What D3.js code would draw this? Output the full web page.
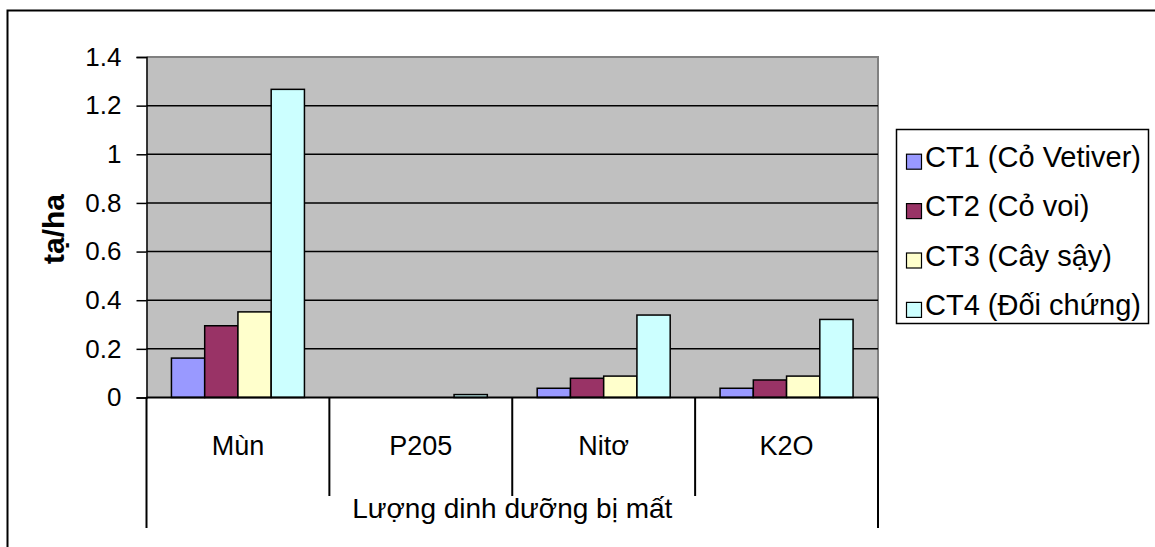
<!DOCTYPE html>
<html>
<head>
<meta charset="utf-8">
<script src="https://cdn.jsdelivr.net/npm/d3@7/dist/d3.min.js"></script>
<style>
  html, body { margin: 0; padding: 0; background: #fff; }
  svg { display: block; font-family: Arial, "Liberation Sans", sans-serif; }
</style>
</head>
<body>
<svg id="chart" width="1155" height="547"></svg>
<script>
// Nutrient losses (tạ/ha) per treatment
const categories = ["Mùn", "P205", "Nitơ", "K2O"];
const seriesNames = ["CT1 (Cỏ Vetiver)", "CT2 (Cỏ voi)", "CT3 (Cây sậy)", "CT4 (Đối chứng)"];
const ct1 = [0.162, 0, 0.038, 0.038];
const ct2 = [0.295, 0, 0.079, 0.072];
const ct3 = [0.352, 0, 0.088, 0.088];
const ct4 = [1.267, 0.012, 0.339, 0.321];
const seriesColors = ["#9999FF", "#993366", "#FFFFCC", "#CCFFFF"];
const yTicks = [0, 0.2, 0.4, 0.6, 0.8, 1, 1.2, 1.4];
const yTitle = "tạ/ha";
const xTitle = "Lượng dinh dưỡng bị mất";

const series = [ct1, ct2, ct3, ct4];

const svg = d3.select("#chart");

// frame around the chart (right/bottom edges fall outside the view)
svg.append("path")
  .attr("d", "M7.5,547 V10.5 H1155")
  .attr("fill", "none").attr("stroke", "#000").attr("stroke-width", 2);

const plot = { left: 146.5, right: 878, top: 57, bottom: 397.5 };

const x0 = d3.scaleBand().domain(categories).range([plot.left, plot.right]).padding(0);
const x1 = d3.scaleBand().domain(d3.range(series.length)).range([0, x0.bandwidth()])
  .paddingInner(0).paddingOuter(0.75);
const y = d3.scaleLinear().domain([0, 1.4]).range([plot.bottom, plot.top]);

// plot background
svg.append("rect")
  .attr("x", plot.left).attr("y", plot.top)
  .attr("width", plot.right - plot.left).attr("height", plot.bottom - plot.top)
  .attr("fill", "#C0C0C0");

// plot area top / right border
svg.append("path")
  .attr("d", `M${plot.left},${plot.top} H${plot.right} V${plot.bottom}`)
  .attr("fill", "none").attr("stroke", "#808080").attr("stroke-width", 2);

// horizontal gridlines
svg.append("g").selectAll("line")
  .data(yTicks.filter(v => v > 0 && v < 1.4))
  .join("line")
  .attr("x1", plot.left).attr("x2", plot.right)
  .attr("y1", d => y(d)).attr("y2", d => y(d))
  .attr("stroke", "#000").attr("stroke-width", 1.5);

// bars
const groups = svg.append("g").selectAll("g")
  .data(categories)
  .join("g")
  .attr("transform", d => `translate(${x0(d)},0)`);

groups.selectAll("rect")
  .data((c, ci) => series.map((s, si) => ({ si, v: s[ci] })))
  .join("rect")
  .attr("x", d => x1(d.si))
  .attr("width", x1.bandwidth())
  .attr("y", d => y(d.v))
  .attr("height", d => y(0) - y(d.v))
  .attr("fill", d => seriesColors[d.si])
  .attr("stroke", d => d.v > 0 ? "#000" : "none")
  .attr("stroke-width", 1.5);

// y axis
const yAxis = d3.axisLeft(y)
  .tickValues(yTicks)
  .tickFormat(d3.format("~g"))
  .tickSize(10)
  .tickPadding(15);

const yg = svg.append("g")
  .attr("transform", `translate(${plot.left},0)`)
  .call(yAxis);
yg.select(".domain").attr("stroke", "#000").attr("stroke-width", 1.5);
yg.selectAll(".tick line").attr("stroke", "#000").attr("stroke-width", 1.5);
yg.selectAll(".tick text")
  .attr("font-family", "Arial, 'Liberation Sans', sans-serif")
  .attr("font-size", 26).attr("fill", "#000");

// x axis baseline
svg.append("line")
  .attr("x1", plot.left).attr("x2", plot.right)
  .attr("y1", y(0)).attr("y2", y(0))
  .attr("stroke", "#000").attr("stroke-width", 2);

// category dividers under the axis
const bounds = categories.map(c => x0(c)).concat([plot.right]);
svg.append("g").selectAll("line")
  .data(bounds)
  .join("line")
  .attr("x1", d => d).attr("x2", d => d)
  .attr("y1", y(0))
  .attr("y2", (d, i) => (i === 0 || i === bounds.length - 1) ? 528 : 496)
  .attr("stroke", "#000").attr("stroke-width", 2);

// category labels
svg.append("g").selectAll("text")
  .data(categories)
  .join("text")
  .attr("x", d => x0(d) + x0.bandwidth() / 2)
  .attr("y", 455)
  .attr("text-anchor", "middle")
  .attr("font-size", 27)
  .text(d => d);

// x title
svg.append("text")
  .attr("x", (plot.left + plot.right) / 2)
  .attr("y", 518)
  .attr("text-anchor", "middle")
  .attr("font-size", 28)
  .text(xTitle);

// y title
svg.append("text")
  .attr("transform", "translate(64,229) rotate(-90)")
  .attr("text-anchor", "middle")
  .attr("font-size", 30)
  .attr("font-weight", "bold")
  .text(yTitle);

// legend
const legend = svg.append("g");
legend.append("rect")
  .attr("x", 896.5).attr("y", 129.5)
  .attr("width", 252).attr("height", 194)
  .attr("fill", "#fff").attr("stroke", "#000").attr("stroke-width", 1.5);

const items = legend.selectAll("g.item")
  .data(seriesNames)
  .join("g")
  .attr("class", "item")
  .attr("transform", (d, i) => `translate(0,${166.7 + i * 49.4})`);

items.append("rect")
  .attr("x", 906.5).attr("y", -12.5)
  .attr("width", 15).attr("height", 15)
  .attr("fill", (d, i) => seriesColors[i])
  .attr("stroke", "#000").attr("stroke-width", 1.2);

items.append("text")
  .attr("x", 925).attr("y", 0)
  .attr("font-size", 29)
  .text(d => d);
</script>
</body>
</html>
